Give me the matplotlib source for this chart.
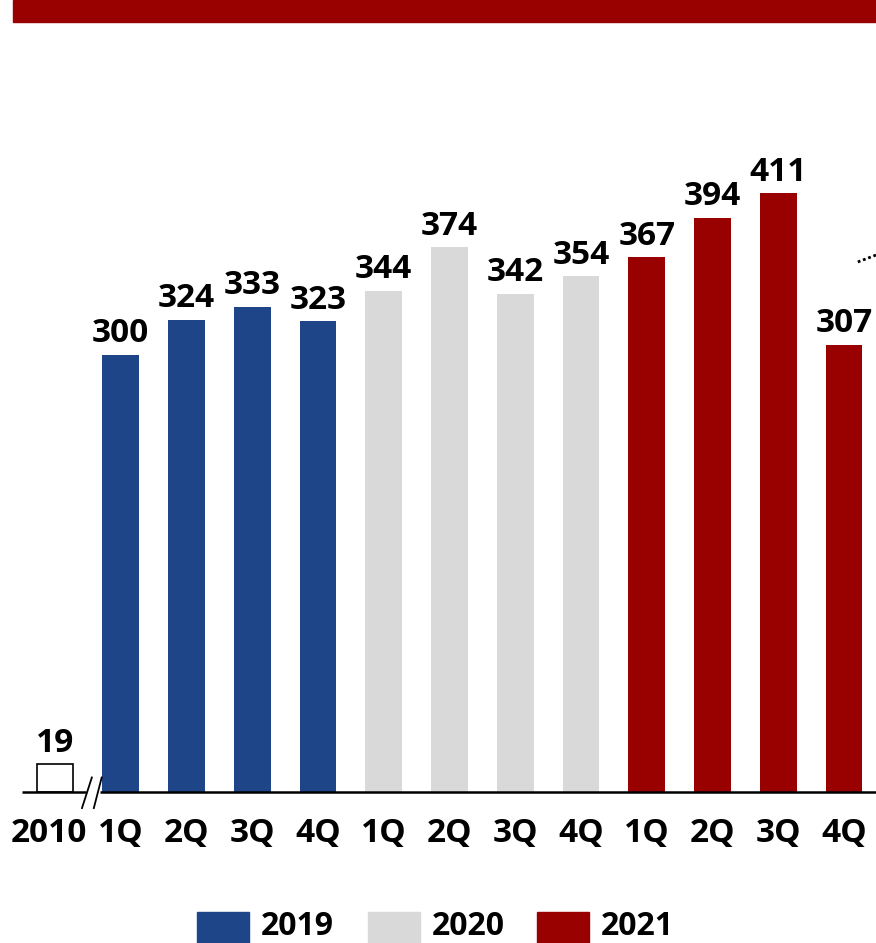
import matplotlib.pyplot as plt
from matplotlib.patches import Rectangle

# values per quarter, 2010 shown as an empty reference box
labels = ['2010', '1Q', '2Q', '3Q', '4Q', '1Q', '2Q', '3Q', '4Q', '1Q', '2Q', '3Q', '4Q']
values = [19, 300, 324, 333, 323, 344, 374, 342, 354, 367, 394, 411, 307]
years = ['2010', '2019', '2019', '2019', '2019', '2020', '2020', '2020', '2020',
         '2021', '2021', '2021', '2021']
year_colors = {'2019': '#1E4588', '2020': '#D9D9D9', '2021': '#990000'}
legend_years = ['2019', '2020', '2021']

plt.rcParams['font.family'] = ['Open Sans', 'DejaVu Sans']
plt.rcParams['font.weight'] = 'bold'

fig = plt.figure(figsize=(8.76, 9.43), dpi=100)
ax = fig.add_axes([0, 0, 1, 1])
ax.set_xlim(-0.837, 12.487)
ax.set_ylim(-103.6, 543.6)
ax.axis('off')

for i, (v, yr) in enumerate(zip(values, years)):
    if yr == '2010':
        ax.bar(i, v, width=0.56, color='white', edgecolor='black', linewidth=1.2)
    else:
        ax.bar(i, v, width=0.56, color=year_colors[yr], linewidth=0)
    ax.annotate(str(v), (i, v), xytext=(0, 9), textcoords='offset points',
                ha='center', va='baseline', fontsize=24, fontweight='bold')
    ax.text(i - (0.09 if i == 0 else 0), -34.5, labels[i], ha='center', va='baseline',
            fontsize=24, fontweight='bold')

# baseline with break marks
ax.plot([-0.5, 0.47], [0, 0], color='black', lw=1.8, solid_capstyle='butt')
ax.plot([0.68, 12.49], [0, 0], color='black', lw=1.8, solid_capstyle='butt')
ax.plot([0.41, 0.56], [-11, 10], color='black', lw=1.3)
ax.plot([0.59, 0.71], [-11, 10], color='black', lw=1.3)

# trend line fragment at the right edge
ax.plot([12.21, 12.49], [363.8, 368.6], color='black', lw=2, linestyle=(0, (1, 1)))

# red title banner (title text is cut off above the image)
fig.patches.append(Rectangle((13 / 876, 1 - 22 / 943), 1, 22 / 943,
                             transform=fig.transFigure, color='#990000'))

# legend
leg_x = [197, 368, 537]
for yr, lx in zip(legend_years, leg_x):
    fig.patches.append(Rectangle((lx / 876, 0), 52 / 876, 31 / 943,
                                 transform=fig.transFigure, color=year_colors[yr]))
    fig.text((lx + 64) / 876, 8 / 943, yr, ha='left', va='baseline',
             fontsize=23, fontweight='bold')

fig.savefig('out.png', dpi=100)
